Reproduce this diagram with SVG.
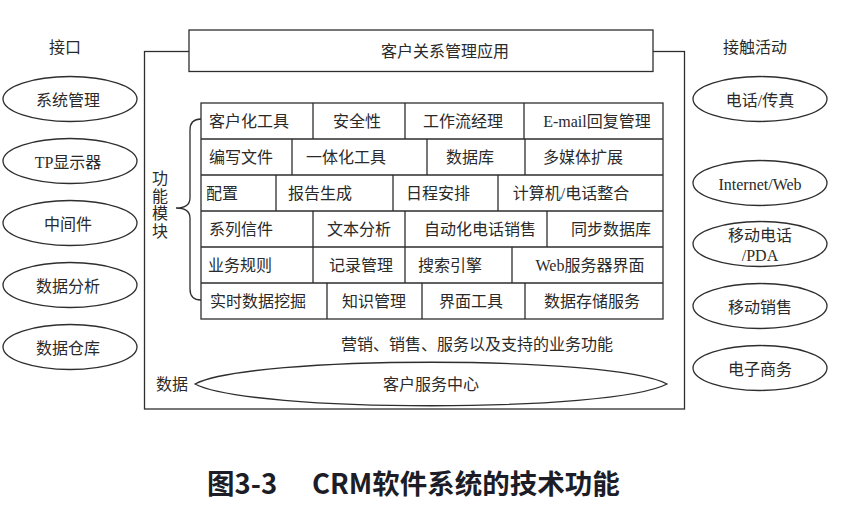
<svg xmlns="http://www.w3.org/2000/svg" width="852" height="511" viewBox="0 0 852 511">
<style>
.t{font-family:"Liberation Serif","Noto Sans CJK SC",serif;font-size:16px;fill:#2a2a2a;text-anchor:middle;dominant-baseline:central}
.l{fill:none;stroke:#2e2e2e;stroke-width:1.3}
.w{fill:#fff;stroke:#2e2e2e;stroke-width:1.3}
.ttl{font-family:"Noto Sans CJK SC","Noto Sans",sans-serif;font-size:27.5px;font-weight:bold;fill:#1c1d26}
</style>
<rect width="852" height="511" fill="#fff"/>

<g id="frame">
<rect class="l" x="144.5" y="51.5" width="540" height="357.5"/>
</g>

<g id="top-box">
<rect class="w" x="189" y="30" width="464" height="41.5"/>
<text class="t" x="445" y="51">客户关系管理应用</text>
</g>

<g id="labels">
<text class="t" x="65" y="47">接口</text>
<text class="t" x="755" y="47">接触活动</text>
<text class="t" x="160"><tspan x="160" y="178">功</tspan><tspan x="160" y="195.5">能</tspan><tspan x="160" y="213">模</tspan><tspan x="160" y="230.5">块</tspan></text>
<text class="t" x="477" y="344">营销、销售、服务以及支持的业务功能</text>
<text class="t" x="172" y="384">数据</text>
</g>

<g id="left-interfaces">
<g id="n-xitong"><ellipse class="w" cx="70" cy="99" rx="67" ry="22.5"/><text class="t" x="68" y="100">系统管理</text></g>
<g id="n-tp"><ellipse class="w" cx="70" cy="161" rx="67" ry="22.5"/><text class="t" x="68" y="162">TP显示器</text></g>
<g id="n-zhongjian"><ellipse class="w" cx="70" cy="223" rx="67" ry="22.5"/><text class="t" x="68" y="224">中间件</text></g>
<g id="n-fenxi"><ellipse class="w" cx="70" cy="285" rx="67" ry="22.5"/><text class="t" x="68" y="286">数据分析</text></g>
<g id="n-cangku"><ellipse class="w" cx="70" cy="347" rx="67" ry="22.5"/><text class="t" x="68" y="348">数据仓库</text></g>
</g>

<g id="right-contacts">
<g id="n-dianhua"><ellipse class="w" cx="760" cy="99" rx="67" ry="22.5"/><text class="t" x="760" y="100">电话/传真</text></g>
<g id="n-internet"><ellipse class="w" cx="760" cy="183" rx="67" ry="22.5"/><text class="t" x="760" y="184">Internet/Web</text></g>
<g id="n-mobile"><ellipse class="w" cx="760" cy="244" rx="67" ry="22.5"/><text class="t" x="760" y="235">移动电话</text><text class="t" x="760" y="255">/PDA</text></g>
<g id="n-xiaoshou"><ellipse class="w" cx="760" cy="306" rx="67" ry="22.5"/><text class="t" x="760" y="307">移动销售</text></g>
<g id="n-shangwu"><ellipse class="w" cx="760" cy="368" rx="67" ry="22.5"/><text class="t" x="760" y="369">电子商务</text></g>
</g>

<g id="modules">
<rect class="l" x="201" y="103" width="462" height="216" stroke-width="1.5"/>
<path class="l" d="M201 139H663M201 175H663M201 211H663M201 247H663M201 283H663"/>
<path class="l" d="M313 103V139M405 103V139M524 103V139
M292 139V175M427 139V175M525 139V175
M276 175V211M393 175V211M498 175V211
M313 211V247M405 211V247M547 211V247
M313 247V283M405 247V283M512 247V283
M327 283V319M422 283V319M525 283V319"/>
<g id="r1">
<text class="t" x="249" y="121">客户化工具</text>
<text class="t" x="357" y="121">安全性</text>
<text class="t" x="463" y="121">工作流经理</text>
<text class="t" x="597" y="121">E-mail回复管理</text>
</g>
<g id="r2">
<text class="t" x="241" y="157">编写文件</text>
<text class="t" x="346" y="157">一体化工具</text>
<text class="t" x="470" y="157">数据库</text>
<text class="t" x="583" y="157">多媒体扩展</text>
</g>
<g id="r3">
<text class="t" x="222" y="193">配置</text>
<text class="t" x="320" y="193">报告生成</text>
<text class="t" x="438" y="193">日程安排</text>
<text class="t" x="571" y="193">计算机/电话整合</text>
</g>
<g id="r4">
<text class="t" x="241" y="229">系列信件</text>
<text class="t" x="359" y="229">文本分析</text>
<text class="t" x="480" y="229">自动化电话销售</text>
<text class="t" x="611" y="229">同步数据库</text>
</g>
<g id="r5">
<text class="t" x="240" y="265">业务规则</text>
<text class="t" x="361" y="265">记录管理</text>
<text class="t" x="450" y="265">搜索引擎</text>
<text class="t" x="590" y="265">Web服务器界面</text>
</g>
<g id="r6">
<text class="t" x="258" y="301">实时数据挖掘</text>
<text class="t" x="374" y="301">知识管理</text>
<text class="t" x="471" y="301">界面工具</text>
<text class="t" x="592" y="301">数据存储服务</text>
</g>
</g>

<g id="service-center">
<path class="w" d="M195 384C250 355 612 355 667 384C612 413 250 413 195 384Z"/>
<text class="t" x="431" y="384">客户服务中心</text>
</g>

<g id="connectors">
<path class="l" d="M201 119Q190 119 190 130L190 198Q190 208 176 208Q190 208 190 218L190 289Q190 300 201 300"/>
</g>

<g id="caption">
<text class="ttl" x="207" y="494">图3-3</text>
<text class="ttl" x="312" y="494">CRM软件系统的技术功能</text>
</g>
</svg>
